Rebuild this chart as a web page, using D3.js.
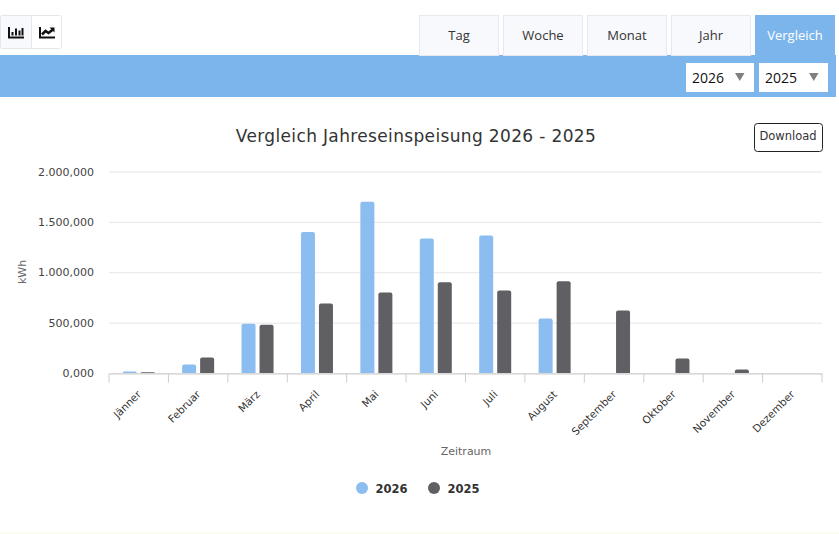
<!DOCTYPE html>
<html lang="de">
<head>
<meta charset="utf-8">
<title>Vergleich</title>
<script src="https://cdn.jsdelivr.net/npm/d3@7"></script>
<style>
    html, body { margin: 0; padding: 0; background: #fff; overflow: hidden; }
    #main-svg { display: block; }
    .tab { font-family: "Open Sans", sans-serif; font-size: 13px; text-anchor: middle; }
    .chart-text { font-family: "DejaVu Sans", sans-serif; }
    .grid line { stroke: #e6e6e6; }
</style>
</head>
<body>
<svg id="main-svg" width="839" height="534"></svg>
<script>
// chart data
const months = ['Jänner', 'Februar', 'März', 'April', 'Mai', 'Juni', 'Juli', 'August', 'September', 'Oktober', 'November', 'Dezember'];
const values2026 = [15, 85, 490, 1400, 1700, 1335, 1365, 540, 0, 0, 0, 0];
const values2025 = [8, 155, 480, 690, 800, 900, 820, 910, 620, 145, 35, 0];
const yTicks = [0, 500, 1000, 1500, 2000];
const seriesNames = ['2026', '2025'];
const tabs = ['Tag', 'Woche', 'Monat', 'Jahr', 'Vergleich'];

const BLUE = '#7cb5ec';
const BAR_BLUE = '#8bbdf0';
const DARK = '#5f5f64';

const svg = d3.select('#main-svg');

function fmt(v) {
    // German number format: "2.000,000"
    return d3.format(',.3f')(v).replace(/,/g, '#').replace('.', ',').replace('#', '.');
}

// top bar
svg.append('rect').attr('x', 0).attr('y', 55).attr('width', 836).attr('height', 42).attr('fill', BLUE);
svg.append('rect').attr('x', 0).attr('y', 532.5).attr('width', 839).attr('height', 1.5).attr('fill', '#fbfbee');

// tabs
const tabG = svg.selectAll('g.tabg').data(tabs).join('g').attr('class', 'tabg')
    .attr('transform', (d, i) => `translate(${419 + i * 84},15)`);
tabG.append('rect')
    .attr('x', 0.5).attr('y', 0.5).attr('width', 79).attr('height', 40)
    .attr('fill', d => d === 'Vergleich' ? BLUE : '#f8f9fc')
    .attr('stroke', d => d === 'Vergleich' ? BLUE : '#e8e8ee');
tabG.append('text').attr('class', 'tab')
    .attr('x', 40).attr('y', 25)
    .style('fill', d => d === 'Vergleich' ? '#fff' : '#333')
    .text(d => d);

// year selects
const selects = [{ x: 686, w: 68, label: '2026' }, { x: 759, w: 69, label: '2025' }];
const selG = svg.selectAll('g.sel').data(selects).join('g').attr('class', 'sel')
    .attr('transform', d => `translate(${d.x},63)`);
selG.append('rect').attr('width', d => d.w).attr('height', 29).attr('fill', '#fff');
selG.append('text').attr('x', 6).attr('y', 19.5)
    .attr('font-family', '"Open Sans", sans-serif').attr('font-size', 14).attr('fill', '#111')
    .text(d => d.label);
selG.append('path').attr('d', d => `M${d.w - 19},10 h9.5 l-4.75,8 z`).attr('fill', '#808080');

// chart-type buttons
svg.append('rect').attr('x', 0.5).attr('y', 15.5).attr('width', 61).attr('height', 33).attr('rx', 2)
    .attr('fill', '#fff').attr('stroke', '#e6e6ea');
svg.append('rect').attr('x', 0.5).attr('y', 15.5).attr('width', 31).attr('height', 33).attr('rx', 2)
    .attr('fill', '#f8f9fc').attr('stroke', '#e6e6ea');
svg.append('path').attr('fill', 'none').attr('stroke', '#111').attr('stroke-width', 2)
    .attr('d', 'M9,27 V37.5 H24 M12.5,35.5 V32 M16,35.5 V28.5 M19.5,35.5 V30.5 M22.5,35.5 V28');
svg.append('path').attr('fill', 'none').attr('stroke', '#111').attr('stroke-width', 2)
    .attr('d', 'M40,27 V37.5 H55');
svg.append('path').attr('fill', 'none').attr('stroke', '#111').attr('stroke-width', 2.6)
    .attr('d', 'M42,34.5 L45.5,31 L48.5,33 L53,29.5');
svg.append('path').attr('fill', '#111').attr('d', 'M49.5,27.5 h5 v5 z');

// title and download button
svg.append('text').attr('class', 'chart-text')
    .attr('x', 416).attr('y', 142).attr('text-anchor', 'middle')
    .attr('font-size', 17).attr('letter-spacing', 0.35).attr('fill', '#333')
    .text('Vergleich Jahreseinspeisung 2026 - 2025');
svg.append('rect').attr('x', 754.5).attr('y', 123.5).attr('width', 68).attr('height', 28).attr('rx', 3)
    .attr('fill', '#fff').attr('stroke', '#222');
svg.append('text').attr('class', 'chart-text')
    .attr('x', 788).attr('y', 140).attr('text-anchor', 'middle')
    .attr('font-size', 11.5).attr('fill', '#333').text('Download');

// scales
const x = d3.scaleBand().domain(months).range([109, 822]);
const y = d3.scaleLinear().domain([0, 2000]).range([373, 171.5]);
const inner = d3.scaleBand().domain(seriesNames)
    .range([x.bandwidth() / 2 - 16, x.bandwidth() / 2 + 16]).paddingInner(0.222);

// grid + y axis
svg.append('g').attr('class', 'grid')
    .attr('transform', 'translate(109,0)')
    .call(d3.axisLeft(y).tickValues(yTicks).tickSize(-713).tickFormat(''))
    .call(g => g.select('.domain').remove());

svg.append('g').selectAll('text').data(yTicks).join('text')
    .attr('class', 'chart-text')
    .attr('x', 94).attr('y', d => y(d) + 4)
    .attr('text-anchor', 'end').attr('font-size', 11).attr('fill', '#444')
    .text(fmt);

// bars
const series = [values2026, values2025];
const colors = [BAR_BLUE, DARK];
seriesNames.forEach((name, s) => {
    svg.append('g').selectAll('path').data(series[s]).join('path')
        .attr('fill', colors[s])
        .attr('d', (v, i) => {
            if (v === 0) return '';
            const bx = x(months[i]) + inner(name);
            const w = inner.bandwidth();
            const top = y(v);
            const h = y(0) - top;
            const r = Math.min(2, h);
            return `M${bx},${y(0)} V${top + r} Q${bx},${top} ${bx + r},${top} H${bx + w - r} Q${bx + w},${top} ${bx + w},${top + r} V${y(0)} Z`;
        });
});

// x axis
const xAxis = svg.append('g').attr('transform', 'translate(0,373.5)')
    .call(d3.axisBottom(x).tickSize(0).tickFormat(''));
xAxis.select('.domain').attr('stroke', '#ccc');
xAxis.selectAll('line.edge').data(d3.range(months.length + 1)).join('line').attr('class', 'edge')
    .attr('x1', i => x.step() * i + 109).attr('x2', i => x.step() * i + 109)
    .attr('y1', 0).attr('y2', 9).attr('stroke', '#ccc');

svg.append('g').selectAll('text').data(months).join('text')
    .attr('class', 'chart-text')
    .attr('font-size', 10.5).attr('fill', '#333').attr('text-anchor', 'end')
    .attr('transform', d => `translate(${x(d) + x.bandwidth() / 2 + 3},395) rotate(-45)`)
    .text(d => d);

// axis titles
svg.append('text').attr('class', 'chart-text')
    .attr('transform', 'translate(26,272) rotate(-90)').attr('text-anchor', 'middle')
    .attr('font-size', 11).attr('fill', '#666').text('kWh');
svg.append('text').attr('class', 'chart-text')
    .attr('x', 466).attr('y', 455).attr('text-anchor', 'middle')
    .attr('font-size', 11).attr('fill', '#666').text('Zeitraum');

// legend
const legendX = [362, 434];
const legend = svg.selectAll('g.leg').data(seriesNames).join('g').attr('class', 'leg')
    .attr('transform', (d, i) => `translate(${legendX[i]},488)`);
legend.append('circle').attr('r', 6).attr('fill', (d, i) => colors[i]);
legend.append('text').attr('class', 'chart-text')
    .attr('x', 13.5).attr('y', 5).attr('font-size', 11.5).attr('font-weight', 'bold').attr('fill', '#333')
    .text(d => d);
</script>
</body>
</html>
